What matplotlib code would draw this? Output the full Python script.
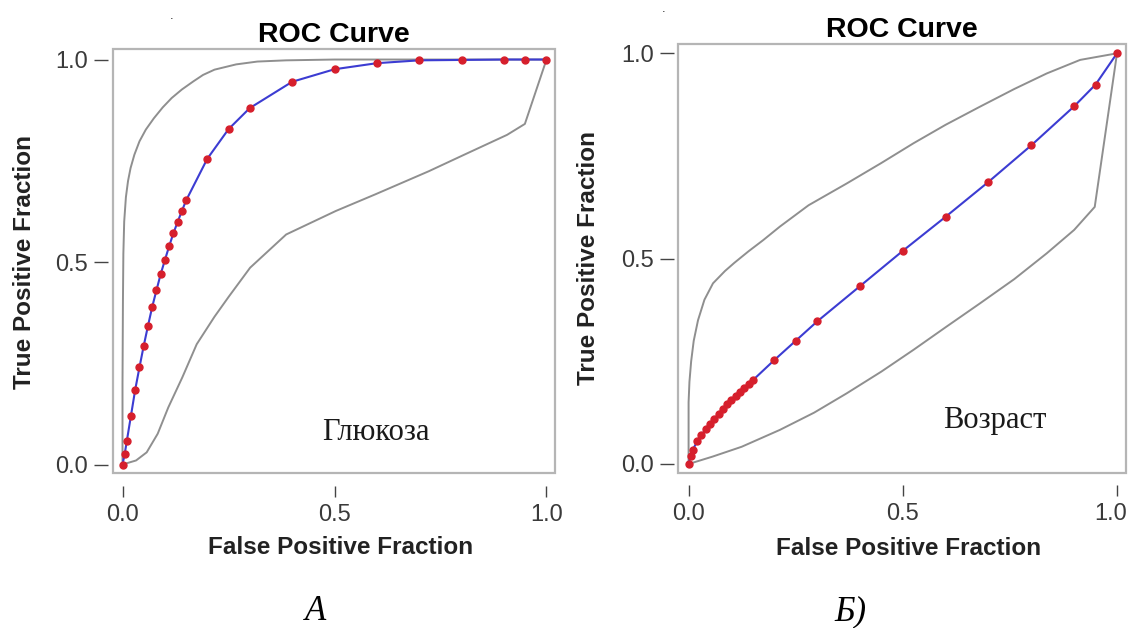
import matplotlib
matplotlib.use("Agg")
import matplotlib.pyplot as plt
from matplotlib.patches import Rectangle
from matplotlib.transforms import ScaledTranslation

# ---------------- data ----------------
fpf_grid = [0.0, 0.005, 0.01, 0.02, 0.03, 0.04, 0.05, 0.06, 0.07, 0.08, 0.09, 0.10,
            0.11, 0.12, 0.13, 0.14, 0.15, 0.20, 0.25, 0.30, 0.40, 0.50, 0.60, 0.70,
            0.80, 0.90, 0.95, 1.0]

glu_tpf = [0.0, 0.025, 0.057, 0.121, 0.185, 0.240, 0.293, 0.342, 0.389, 0.430, 0.470, 0.505,
           0.539, 0.571, 0.599, 0.626, 0.652, 0.755, 0.828, 0.880, 0.945, 0.976, 0.991, 0.998,
           0.999, 1.0, 1.0, 1.0]

age_tpf = [0.0, 0.020, 0.035, 0.055, 0.070, 0.085, 0.098, 0.110, 0.122, 0.134, 0.145, 0.155,
           0.165, 0.175, 0.185, 0.195, 0.204, 0.253, 0.300, 0.347, 0.433, 0.519, 0.602, 0.687,
           0.776, 0.871, 0.924, 1.0]

glu_upper_x = [0.0, 0.0, 0.001, 0.002, 0.004, 0.008, 0.013, 0.019, 0.028, 0.040, 0.055,
               0.074, 0.095, 0.116, 0.140, 0.167, 0.190, 0.217, 0.268, 0.318, 0.386, 0.5, 1.0]
glu_upper_y = [0.0, 0.20, 0.40, 0.52, 0.60, 0.66, 0.70, 0.732, 0.765, 0.798, 0.827,
               0.855, 0.882, 0.905, 0.926, 0.946, 0.962, 0.975, 0.988, 0.995, 0.998, 1.0, 1.0]
glu_lower_x = [0.0, 0.032, 0.057, 0.083, 0.108, 0.141, 0.175, 0.217, 0.251, 0.301, 0.386,
               0.503, 0.596, 0.722, 0.806, 0.907, 0.949, 1.0]
glu_lower_y = [0.0, 0.010, 0.030, 0.076, 0.141, 0.215, 0.297, 0.365, 0.415, 0.486, 0.568,
               0.626, 0.667, 0.724, 0.765, 0.814, 0.841, 1.0]

age_upper_x = [0.0, 0.0, 0.002, 0.006, 0.012, 0.022, 0.037, 0.057, 0.085, 0.107, 0.140,
               0.174, 0.213, 0.280, 0.369, 0.450, 0.525, 0.600, 0.680, 0.760, 0.836,
               0.914, 1.0]
age_upper_y = [0.0, 0.15, 0.20, 0.25, 0.30, 0.35, 0.40, 0.440, 0.470, 0.490, 0.518,
               0.545, 0.578, 0.630, 0.683, 0.733, 0.781, 0.826, 0.870, 0.913, 0.951,
               0.984, 1.0]
age_lower_x = [0.0, 0.056, 0.124, 0.213, 0.293, 0.369, 0.450, 0.525, 0.600, 0.680, 0.760,
               0.836, 0.900, 0.948, 1.0]
age_lower_y = [0.0, 0.018, 0.042, 0.083, 0.125, 0.172, 0.225, 0.278, 0.333, 0.391, 0.450,
               0.513, 0.570, 0.626, 1.0]

ticks = [0.0, 0.5, 1.0]
tick_labels = ["0.0", "0.5", "1.0"]

# ---------------- style ----------------
NARROW = ["Liberation Sans Narrow", "Liberation Sans", "DejaVu Sans"]
BOLD = ["Liberation Sans", "DejaVu Sans"]
SERIF = ["Liberation Serif", "DejaVu Serif"]
BAND = "#8f8f8f"
LINE = "#3c3cd2"
DOT = "#d61f2c"

W, H = 1128, 628
fig = plt.figure(figsize=(W / 100, H / 100), dpi=100)


def panel(box_px, xlim, ylim, tpf, ux, uy, lx, ly, note, note_xy):
    l, t, r, b = box_px
    ax = fig.add_axes([l / W, 1 - b / H, (r - l) / W, (b - t) / H])
    ax.set_xlim(*xlim)
    ax.set_ylim(*ylim)
    ax.plot(ux, uy, color=BAND, lw=1.4, zorder=2, solid_joinstyle="round")
    ax.plot(lx, ly, color=BAND, lw=1.4, zorder=2, solid_joinstyle="round")
    ax.plot(fpf_grid, tpf, color=LINE, lw=1.5, zorder=3)
    ax.plot(fpf_grid, tpf, ls="none", marker="o", ms=5.0, mfc=DOT, mec=DOT, zorder=4)
    for s in ax.spines.values():
        s.set_visible(False)
    ax.add_patch(Rectangle((0, 0), 1, 1, transform=ax.transAxes, fill=False,
                           edgecolor="#b5b5b5", lw=1.6, clip_on=False, zorder=5))
    ax.spines["bottom"].set_position(("outward", 9))
    ax.spines["left"].set_position(("outward", 3))
    ax.set_xticks(ticks)
    ax.set_xticklabels(tick_labels)
    ax.set_yticks(ticks)
    ax.set_yticklabels(tick_labels)
    ax.tick_params(axis="x", direction="out", length=8, width=1.0, color="#444444",
                   pad=5, labelsize=17, labelcolor="#3a3a3a")
    ax.tick_params(axis="y", direction="out", length=10, width=1.0, color="#444444",
                   pad=4.5, labelsize=17, labelcolor="#3a3a3a")
    for lab in ax.get_xticklabels() + ax.get_yticklabels():
        lab.set_family(NARROW)
    ax.set_title("ROC Curve", fontsize=20.5, fontweight="bold", family=BOLD, pad=5)
    ax.set_xlabel("False Positive Fraction", fontsize=17.5, fontweight="bold",
                  family=BOLD, color="#222222")
    ax.set_ylabel("True Positive Fraction", fontsize=17.5, fontweight="bold",
                  family=BOLD, color="#222222")
    ax.text(note_xy[0], note_xy[1], note, fontsize=22, family=SERIF,
            ha="center", va="center", color="#1a1a1a")
    return ax


ax1 = panel((112.5, 49, 555.4, 473.3),
            (-0.0236, 1.021), (-0.0217, 1.026), glu_tpf,
            glu_upper_x, glu_upper_y, glu_lower_x, glu_lower_y,
            "Глюкоза", (0.598, 0.078))
ax1.xaxis.set_label_coords(0.514, -0.148)
ax1.yaxis.set_label_coords(-0.173, 0.498)

ax2 = panel((678, 44, 1126, 472.7),
            (-0.0247, 1.021), (-0.0212, 1.0227), age_tpf,
            age_upper_x, age_upper_y, age_lower_x, age_lower_y,
            "Возраст", (0.715, 0.107))
ax2.xaxis.set_label_coords(0.515, -0.149)
ax2.yaxis.set_label_coords(-0.174, 0.5)

# keep the right-most tick label inside the canvas
last = ax2.get_xticklabels()[-1]
last.set_transform(last.get_transform() + ScaledTranslation(-6 / 100, 0, fig.dpi_scale_trans))

fig.text(316 / W, 1 - 611 / H, "А", fontsize=25, family=SERIF, style="italic",
         ha="center", va="center")
fig.text(850 / W, 1 - 612 / H, "Б)", fontsize=25, family=SERIF, style="italic",
         ha="center", va="center")
fig.text(172 / W, 1 - 16 / H, ".", fontsize=8, ha="center", va="center")
fig.text(664 / W, 1 - 9 / H, ".", fontsize=8, ha="center", va="center")

fig.savefig("out.png", dpi=100)
